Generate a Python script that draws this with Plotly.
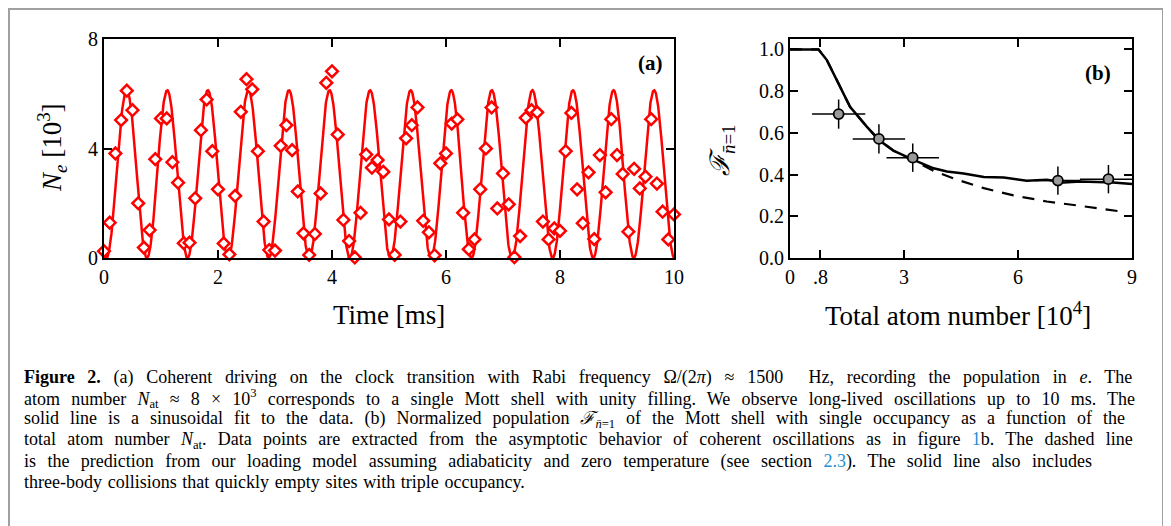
"""Figure 2: Rabi oscillations (a) and normalized n=1 population (b)."""

import numpy as np
import plotly.graph_objects as go

# ---- panel (a): excited-state population vs time ----
time_ms = [round(0.1 * i, 1) for i in range(101)]
ne_data = [
    0.25, 1.29, 3.82, 5.04, 6.11, 5.40, 2.00, 0.38, 1.02, 3.61,
    5.10, 5.10, 3.50, 2.75, 0.54, 0.56, 2.18, 4.67, 5.79, 3.90,
    2.51, 0.53, 0.13, 2.27, 5.34, 6.53, 6.16, 3.90, 1.33, 0.29,
    0.27, 4.10, 4.85, 3.94, 2.43, 0.90, 0.11, 0.88, 2.36, 6.40,
    6.82, 4.51, 1.39, 0.62, 0.02, 1.65, 3.78, 3.30, 3.58, 3.15,
    1.41, 0.11, 1.33, 4.37, 4.85, 5.50, 1.36, 0.94, 0.10, 3.46,
    3.82, 4.91, 5.06, 1.65, 0.32, 0.68, 2.51, 4.00, 5.50, 1.81,
    3.09, 1.96, 0.03, 0.80, 5.12, 5.40, 5.32, 1.33, 0.68, 1.08,
    0.99, 3.90, 5.30, 2.51, 1.27, 3.13, 0.69, 3.76, 2.40, 5.07,
    3.76, 3.07, 0.96, 3.26, 2.54, 2.97, 5.07, 2.72, 1.69, 0.68,
    1.59,
]

# sinusoidal fit parameters
fit_amplitude = 6.13      # 10^3 atoms
fit_frequency = 1.405     # kHz
fit_t0 = 0.042            # ms

# ---- panel (b): normalized population vs total atom number ----
atoms_pts = [1.28, 2.34, 3.23, 7.05, 8.38]
frac_pts = [0.69, 0.571, 0.481, 0.371, 0.378]
atoms_err = [0.70, 0.69, 0.69, 0.60, 0.75]
frac_err = [0.07, 0.07, 0.068, 0.068, 0.068]

solid_x = [0.0, 0.75, 0.97, 1.23, 1.58, 2.02, 2.34, 2.72, 3.25, 3.78, 4.13,
           4.57, 5.10, 5.63, 6.23, 6.76, 7.20, 7.64, 8.50, 9.0]
solid_y = [1.0, 1.0, 0.949, 0.853, 0.725, 0.63, 0.566, 0.515, 0.47, 0.43, 0.415,
           0.405, 0.388, 0.386, 0.37, 0.375, 0.362, 0.367, 0.362, 0.355]

dashed_x = [0.0, 0.75, 0.97, 1.23, 1.58, 2.02, 2.34, 2.72, 3.25, 3.78, 4.40,
            5.10, 5.88, 6.76, 7.64, 8.75]
dashed_y = [1.0, 1.0, 0.949, 0.853, 0.725, 0.63, 0.566, 0.515, 0.465, 0.418, 0.375,
            0.335, 0.30, 0.271, 0.250, 0.222]

LINK = "<span style='color:#1f8fd0'>{}</span>"
caption_lines = [
    "<b>Figure 2.</b> (a) Coherent driving on the clock transition with Rabi frequency "
    "Ω/(2<i>π</i>) ≈ 1500  Hz, recording the population in <i>e</i>. The",
    "atom number <i>N</i><sub>at</sub> ≈ 8 × 10<sup>3</sup> corresponds to a single Mott shell "
    "with unity filling. We observe long-lived oscillations up to 10 ms. The",
    "solid line is a sinusoidal fit to the data. (b) Normalized population "
    "<i>ℱ</i><sub><i>n̄</i>=1</sub> of the Mott shell with single occupancy as a function of the",
    "total atom number <i>N</i><sub>at</sub>. Data points are extracted from the asymptotic "
    "behavior of coherent oscillations as in figure " + LINK.format("1") + "b. The dashed line",
    "is the prediction from our loading model assuming adiabaticity and zero temperature "
    "(see section " + LINK.format("2.3") + "). The solid line also includes",
    "three-body collisions that quickly empty sites with triple occupancy.",
]
# extra space between words (px) to mimic the justified caption
caption_word_spacing = [8.2, 6.7, 6.5, 6.8, 6.9, 1.2]

# the page body adds an 8 px margin, so the figure is drawn 8 px smaller
OFF = 8
W, H = 1171 - OFF, 526 - OFF
SERIF = "Liberation Serif, Times New Roman, serif"


def px_x(x):
    return (x - OFF) / W


def px_y(y):
    return 1 - (y - OFF) / H


t_fit = np.linspace(0, 10, 2000)
ne_fit = fit_amplitude / 2 * (1 - np.cos(2 * np.pi * fit_frequency * (t_fit - fit_t0)))

fig = go.Figure()

fig.add_trace(
    go.Scatter(x=t_fit, y=ne_fit, mode="lines", line={"color": "#ff0000", "width": 2.5},
               xaxis="x", yaxis="y", showlegend=False)
)
fig.add_trace(
    go.Scatter(x=time_ms, y=ne_data, mode="markers", xaxis="x", yaxis="y", showlegend=False,
               cliponaxis=False,
               marker={"symbol": "diamond", "size": 9, "color": "white",
                       "line": {"color": "#ff0000", "width": 2.5}})
)

fig.add_trace(
    go.Scatter(x=dashed_x, y=dashed_y, mode="lines", xaxis="x2", yaxis="y2", showlegend=False,
               line={"color": "black", "width": 2.2, "dash": "12px,9px"})
)
fig.add_trace(
    go.Scatter(x=solid_x, y=solid_y, mode="lines", xaxis="x2", yaxis="y2", showlegend=False,
               line={"color": "black", "width": 2.5})
)
fig.add_trace(
    go.Scatter(x=atoms_pts, y=frac_pts, mode="markers", xaxis="x2", yaxis="y2", showlegend=False,
               error_x={"type": "data", "array": atoms_err, "color": "black", "thickness": 1.5, "width": 0},
               error_y={"type": "data", "array": frac_err, "color": "black", "thickness": 1.5, "width": 0},
               marker={"size": 10, "color": "#9a9a9a", "line": {"color": "black", "width": 1.8}})
)

axis_common = dict(
    showline=True, linecolor="black", linewidth=2, mirror="ticks", ticks="inside",
    ticklen=8, tickwidth=1.5, tickcolor="black", showgrid=False, zeroline=False,
    automargin=False, tickfont={"family": SERIF, "size": 20, "color": "black"},
)

fig.update_layout(
    template="none",
    width=W, height=H,
    margin={"l": 0, "r": 0, "t": 0, "b": 0, "pad": 0, "autoexpand": False},
    paper_bgcolor="white", plot_bgcolor="white",
    xaxis=dict(axis_common, domain=[px_x(104), px_x(674)], range=[0, 10],
               tickvals=[0, 2, 4, 6, 8, 10], anchor="y"),
    yaxis=dict(axis_common, domain=[px_y(258), px_y(39)], range=[0, 8],
               tickvals=[0, 4, 8], anchor="x"),
    xaxis2=dict(axis_common, domain=[px_x(790), px_x(1132)], range=[0, 9],
                tickvals=[0, 0.8, 3, 6, 9], ticktext=["0", ".8", "3", "6", "9"], anchor="y2"),
    yaxis2=dict(axis_common, domain=[px_y(258), px_y(39)], range=[0, 1.05],
                tickvals=[0, 0.2, 0.4, 0.6, 0.8, 1.0], tickformat=".1f", anchor="x2"),
)

annotations = [
    dict(x=px_x(389), y=px_y(315), text="Time [ms]", font={"size": 27}),
    dict(x=px_x(52), y=px_y(148), text="<i>N</i><sub><i>e</i></sub> [10<sup>3</sup>]",
         font={"size": 27}, textangle=-90),
    dict(x=px_x(958), y=px_y(314), text="Total atom number [10<sup>4</sup>]", font={"size": 27}),
    dict(x=px_x(722), y=px_y(150), text="<i>ℱ</i><sub><i>n̄</i>=1</sub>",
         font={"size": 27}, textangle=-90),
    dict(x=px_x(650), y=px_y(63), text="<b>(a)</b>", font={"size": 21}),
    dict(x=px_x(1098), y=px_y(73), text="<b>(b)</b>", font={"size": 21}),
]
for i, line in enumerate(caption_lines):
    text = f"<span style='word-spacing:{caption_word_spacing[i]}px'>{line}</span>"
    annotations.append(
        dict(x=px_x(22), y=px_y(377 + 21 * i), text=text, xanchor="left",
             font={"size": 18})
    )
for a in annotations:
    a.setdefault("xanchor", "center")
    a.update(xref="paper", yref="paper", yanchor="middle", showarrow=False)
    a["font"] = {"family": SERIF, "color": "black", **a["font"]}
fig.update_layout(annotations=annotations)

# frame around figure + caption (top edge sits in the page margin, keep it just inside)
fig.add_shape(type="rect", xref="paper", yref="paper",
              x0=px_x(9), x1=px_x(1163), y0=-0.2, y1=px_y(9),
              line={"color": "#a0a0a0", "width": 2})

fig.write_html("out.html")
